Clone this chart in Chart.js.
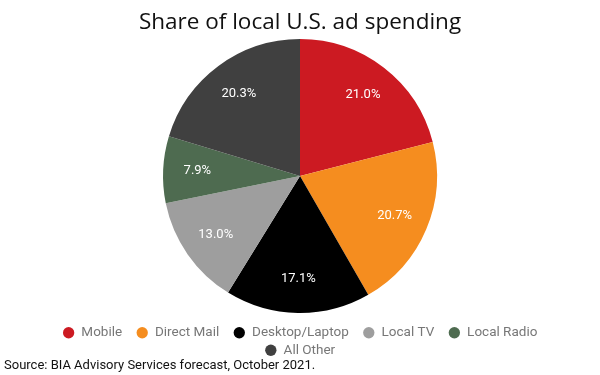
<!DOCTYPE html>
<html>
<head>
<meta charset="utf-8">
<script src="https://cdn.jsdelivr.net/npm/chart.js@4"></script>
<style>
  html, body { margin: 0; padding: 0; background: #fff; }
  #wrap { position: relative; width: 600px; height: 375px; }
  #source { position: absolute; left: 4px; top: 357px; font: 13px Roboto, sans-serif; color: #111; }
</style>
</head>
<body>
<div id="wrap">
  <canvas id="chart" width="600" height="375"></canvas>
  <div id="source">Source: BIA Advisory Services forecast, October 2021.</div>
</div>
<script>
const categories = ["Mobile", "Direct Mail", "Desktop/Laptop", "Local TV", "Local Radio", "All Other"];
const shares = [21.0, 20.7, 17.1, 13.0, 7.9, 20.3];
const colors = ["#cc1a22", "#f58d1f", "#000000", "#9e9e9e", "#4e6b50", "#404040"];

// white percentage labels inside the slices
const sliceLabels = {
  id: "sliceLabels",
  afterDatasetsDraw(chart) {
    const ctx = chart.ctx;
    const meta = chart.getDatasetMeta(0);
    ctx.save();
    ctx.fillStyle = "#fff";
    ctx.font = "13px Roboto, sans-serif";
    ctx.textAlign = "center";
    ctx.textBaseline = "middle";
    meta.data.forEach((arc, i) => {
      const mid = (arc.startAngle + arc.endAngle) / 2;
      const r = arc.outerRadius * 0.75;
      ctx.fillText(shares[i].toFixed(1) + "%", arc.x + Math.cos(mid) * r, arc.y + Math.sin(mid) * r);
    });
    ctx.restore();
  },
};

new Chart(document.getElementById("chart"), {
  type: "pie",
  data: {
    labels: categories,
    datasets: [{ data: shares, backgroundColor: colors, borderWidth: 0, radius: 137 }],
  },
  options: {
    responsive: false,
    animation: false,
    layout: { padding: { top: 0, bottom: 8, left: 30, right: 30 } },
    plugins: {
      title: {
        display: true,
        text: "Share of local U.S. ad spending",
        color: "#111",
        font: { family: "'Open Sans', sans-serif", size: 22.5, weight: "normal" },
        padding: { top: 9, bottom: -6 },
      },
      legend: {
        position: "bottom",
        labels: {
          usePointStyle: true,
          pointStyle: "circle",
          boxWidth: 12,
          boxHeight: 8,
          padding: 4,
          color: "#777",
          font: { family: "Roboto, sans-serif", size: 13.5 },
          // extra trailing spaces give the wider gap between items (not after a row's last item)
          generateLabels(chart) {
            const items = Chart.overrides.pie.plugins.legend.labels.generateLabels(chart);
            items.forEach((it, i) => { if (i < 4) it.text = it.text + "   "; });
            return items;
          },
        },
      },
      tooltip: { enabled: false },
    },
  },
  plugins: [sliceLabels],
});
</script>
</body>
</html>
